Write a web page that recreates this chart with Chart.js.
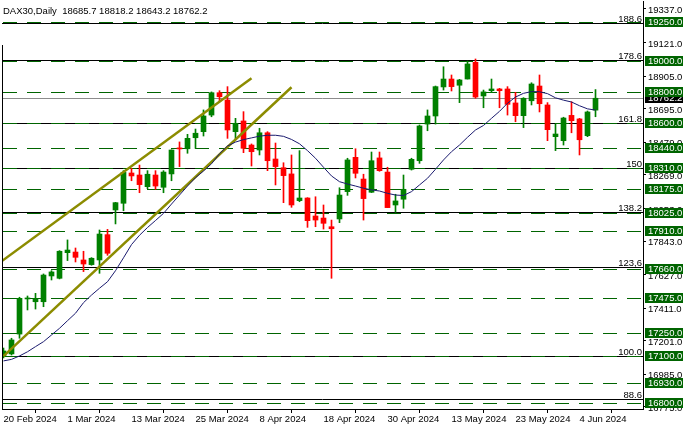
<!DOCTYPE html>
<html>
<head>
<meta charset="utf-8">
<script src="https://cdn.jsdelivr.net/npm/chart.js@4/dist/chart.umd.min.js"></script>
<style>
  html, body { margin: 0; padding: 0; background: #fff; }
  canvas { display: block; }
</style>
</head>
<body>
<canvas id="dax" width="689" height="430"></canvas>
<script>
// DAX30 daily, 20 Feb 2024 .. 6 Jun 2024 (75 bars)
const open = [
  17103, 17116, 17244, 17470, 17452, 17452, 17618, 17603, 17768, 17772,
  17721, 17691, 17721, 17884, 18043, 18086, 18281, 18268, 18193, 18268,
  18189, 18275, 18440, 18437, 18508, 18547, 18654, 18798, 18751, 18547,
  18616, 18461, 18429, 18540, 18371, 18315, 18275, 18103, 18120, 18004,
  17991, 17935, 17985, 18161, 18382, 18242, 18157, 18378, 18287, 18075,
  18112, 18305, 18360, 18596, 18648, 18835, 18886, 18846, 18886, 18994,
  18777, 18811, 18822, 18822, 18732, 18650, 18746, 18841, 18719, 18515,
  18489, 18652, 18629, 18521, 18685.7
];
const high = [
  17154, 17217, 17481, 17489, 17506, 17631, 17652, 17781, 17850, 17798,
  17777, 17736, 17914, 17918, 18092, 18296, 18311, 18332, 18296, 18296,
  18296, 18430, 18481, 18530, 18564, 18687, 18803, 18811, 18837, 18633,
  18676, 18468, 18569, 18547, 18474, 18347, 18397, 18425, 18122, 18128,
  18075, 17978, 18186, 18376, 18437, 18273, 18416, 18416, 18318, 18144,
  18268, 18376, 18590, 18687, 18841, 18965, 18912, 18884, 19002, 19015,
  18815, 18886, 18826, 18837, 18800, 18766, 18862, 18912, 18734, 18596,
  18640, 18740, 18633, 18680, 18818.2
];
const low = [
  17090, 17109, 17217, 17399, 17405, 17420, 17592, 17599, 17717, 17708,
  17646, 17687, 17635, 17751, 17953, 18038, 18231, 18154, 18180, 18176,
  18154, 18231, 18322, 18408, 18440, 18519, 18643, 18747, 18504, 18498,
  18412, 18326, 18397, 18296, 18204, 18090, 18060, 18096, 17931, 17935,
  17920, 17603, 17961, 18137, 18249, 17978, 18155, 18292, 18058, 18028,
  18054, 18300, 18343, 18553, 18596, 18815, 18809, 18734, 18886, 18762,
  18701, 18798, 18701, 18654, 18611, 18573, 18719, 18674, 18489, 18425,
  18461, 18540, 18397, 18515, 18643.2
];
const close = [
  17135, 17206, 17474, 17475, 17471, 17624, 17644, 17777, 17785, 17738,
  17695, 17732, 17888, 17764, 18090, 18285, 18262, 18206, 18273, 18197,
  18287, 18429, 18436, 18504, 18537, 18648, 18798, 18772, 18558, 18601,
  18440, 18418, 18540, 18360, 18322, 18264, 18075, 18120, 17974, 17978,
  17957, 17922, 18139, 18365, 18279, 18116, 18360, 18296, 18058, 18101,
  18176, 18369, 18584, 18648, 18837, 18886, 18837, 18880, 18983, 18770,
  18803, 18822, 18811, 18723, 18650, 18762, 18854, 18727, 18560, 18532,
  18635, 18618, 18495, 18674, 18762.2
];
// moving average (navy line)
const ma = [
  17071, 17081, 17103, 17130, 17163, 17195, 17238, 17281, 17330, 17378,
  17446, 17495, 17539, 17581, 17652, 17735, 17820, 17880, 17930, 17975,
  18021, 18081, 18139, 18197, 18251, 18294, 18340, 18405, 18455, 18480,
  18496, 18507, 18518, 18524, 18524, 18517, 18497, 18469, 18425, 18376,
  18318, 18262, 18225, 18210, 18197, 18183, 18172, 18165, 18150, 18139,
  18136, 18161, 18204, 18247, 18305, 18365, 18418, 18461, 18511, 18558,
  18587, 18633, 18678, 18730, 18770, 18794, 18805, 18804, 18792, 18765,
  18750, 18738, 18714, 18694, 18686
];

// x axis date labels (every 8 bars)
const dateTickIndex = [0, 8, 16, 24, 32, 40, 48, 56, 64, 72];
const dateTickLabels = ['20 Feb 2024', '1 Mar 2024', '13 Mar 2024', '25 Mar 2024', '8 Apr 2024',
  '18 Apr 2024', '30 Apr 2024', '13 May 2024', '23 May 2024', '4 Jun 2024'];

// right price axis ticks
const priceTicks = [19337, 19121, 18905, 18695, 18479, 18269, 18053, 17843, 17627, 17411, 17201, 16985, 16775];

// support / resistance levels (green dashed, labelled)
const levels = [19250, 19000, 18800, 18600, 18440, 18310, 18175, 18025, 17910, 17660, 17475, 17250, 17100, 16930, 16800];

// fibonacci expansion lines
const fibPrices = [19245, 19008, 18601, 18311, 18029, 17674, 17102, 16826];
const fibLabels = ['188.6', '178.6', '161.8', '150', '138.2', '123,6', '100.0', '88.6'];

// trend channel (bar index, price)
const upperTrend = [[-0.2, 17714], [31, 18891]];
const lowerTrend = [[0, 17102], [36, 18833]];

const lastPrice = 18762.2;
const title = 'DAX30,Daily  18685.7 18818.2 18643.2 18762.2';

const UP = '#008000';
const DOWN = '#ff0000';
const FONT = '9.5px "Liberation Sans", Arial, sans-serif';

const barColors = open.map((o, i) => close[i] >= o ? UP : DOWN);

const overlay = {
  id: 'overlay',
  beforeDatasetsDraw(chart) {
    const { ctx, chartArea: a, scales: { y } } = chart;
    const py = v => Math.round(y.getPixelForValue(v)) + 0.5;
    ctx.save();
    ctx.lineWidth = 1;

    ctx.strokeStyle = '#000';
    fibPrices.forEach(p => {
      ctx.beginPath(); ctx.moveTo(a.left, py(p)); ctx.lineTo(a.right, py(p)); ctx.stroke();
    });

    ctx.strokeStyle = '#006400';
    ctx.setLineDash([14, 10]);
    levels.forEach(p => {
      ctx.beginPath(); ctx.moveTo(a.left + 1, py(p)); ctx.lineTo(a.right, py(p)); ctx.stroke();
    });
    ctx.setLineDash([]);

    ctx.strokeStyle = '#8c8c8c';
    ctx.beginPath(); ctx.moveTo(a.left, py(lastPrice)); ctx.lineTo(a.right, py(lastPrice)); ctx.stroke();

    ctx.fillStyle = '#000';
    ctx.font = FONT;
    ctx.textAlign = 'right';
    ctx.textBaseline = 'alphabetic';
    fibPrices.forEach((p, i) => ctx.fillText(fibLabels[i], a.right - 1, Math.round(y.getPixelForValue(p)) - 1));
    ctx.restore();
  },
  afterDraw(chart) {
    const { ctx, chartArea: a, scales: { y } } = chart;
    ctx.save();
    ctx.font = FONT;
    ctx.textBaseline = 'middle';
    ctx.textAlign = 'left';

    // current price tag
    let cy = Math.round(y.getPixelForValue(lastPrice));
    ctx.fillStyle = '#000';
    ctx.fillRect(a.right + 2, cy - 5, 38, 10);
    ctx.fillStyle = '#fff';
    ctx.fillText(lastPrice.toFixed(1), a.right + 5, cy + 0.5);

    // level tags
    levels.forEach(p => {
      const ty = Math.round(y.getPixelForValue(p));
      ctx.fillStyle = '#006400';
      ctx.fillRect(a.right + 2, ty - 5, 38, 10);
      ctx.fillStyle = '#fff';
      ctx.fillText(p.toFixed(1), a.right + 5, ty + 0.5);
    });

    // left frame line
    ctx.strokeStyle = '#000';
    ctx.lineWidth = 1;
    ctx.beginPath(); ctx.moveTo(a.left + 0.5, 45); ctx.lineTo(a.left + 0.5, a.bottom); ctx.stroke();

    // title
    ctx.fillStyle = '#000';
    ctx.textBaseline = 'alphabetic';
    ctx.fillText(title, 3, 14);
    ctx.restore();
  }
};

new Chart(document.getElementById('dax'), {
  type: 'bar',
  data: {
    datasets: [
      {
        type: 'line',
        data: ma.map((v, i) => ({ x: i, y: v })),
        borderColor: '#1a1a6e',
        borderWidth: 1,
        pointRadius: 0,
        tension: 0,
        order: 0
      },
      {
        type: 'line',
        data: upperTrend.map(p => ({ x: p[0], y: p[1] })),
        borderColor: '#8c8c00',
        borderWidth: 2.5,
        pointRadius: 0,
        order: 0
      },
      {
        type: 'line',
        data: lowerTrend.map(p => ({ x: p[0], y: p[1] })),
        borderColor: '#8c8c00',
        borderWidth: 2.5,
        pointRadius: 0,
        order: 0
      },
      {
        data: open.map((o, i) => ({ x: i, y: [o, close[i]] })),
        backgroundColor: barColors,
        borderWidth: 0,
        barThickness: 5,
        minBarLength: 1,
        grouped: false,
        order: 1
      },
      {
        data: low.map((l, i) => ({ x: i, y: [l, high[i]] })),
        backgroundColor: barColors,
        borderWidth: 0,
        barThickness: 1,
        grouped: false,
        order: 2
      }
    ]
  },
  options: {
    responsive: false,
    animation: false,
    devicePixelRatio: 1,
    layout: { padding: { left: 2, top: 1, right: 0, bottom: 0 } },
    plugins: { legend: { display: false }, tooltip: { enabled: false } },
    scales: {
      x: {
        type: 'linear',
        offset: false,
        min: -0.1875,
        max: 79.9375,
        afterBuildTicks: s => { s.ticks = dateTickIndex.map(v => ({ value: v })); },
        afterFit: s => { s.height = 21; s.paddingLeft = 0; s.paddingRight = 0; },
        grid: { drawOnChartArea: false, drawTicks: true, tickLength: 4, color: '#000' },
        border: { display: true, color: '#000', width: 1 },
        ticks: {
          autoSkip: false,
          maxRotation: 0,
          align: 'start',
          padding: 1,
          color: '#000',
          font: { family: '"Liberation Sans", Arial, sans-serif', size: 9.5 },
          callback: (v, i) => dateTickLabels[i]
        }
      },
      y: {
        type: 'linear',
        position: 'right',
        min: 16761.4,
        max: 19388.4,
        afterBuildTicks: s => { s.ticks = priceTicks.map(v => ({ value: v })); },
        afterFit: s => { s.width = 46; s.paddingTop = 0; s.paddingBottom = 0; },
        grid: { drawOnChartArea: false, drawTicks: true, tickLength: 3, color: '#000' },
        border: { display: true, color: '#000', width: 1 },
        ticks: {
          padding: 2,
          labelOffset: 1.5,
          color: '#000',
          font: { family: '"Liberation Sans", Arial, sans-serif', size: 9.5 },
          callback: v => v.toFixed(1)
        }
      }
    }
  },
  plugins: [overlay]
});
</script>
</body>
</html>
